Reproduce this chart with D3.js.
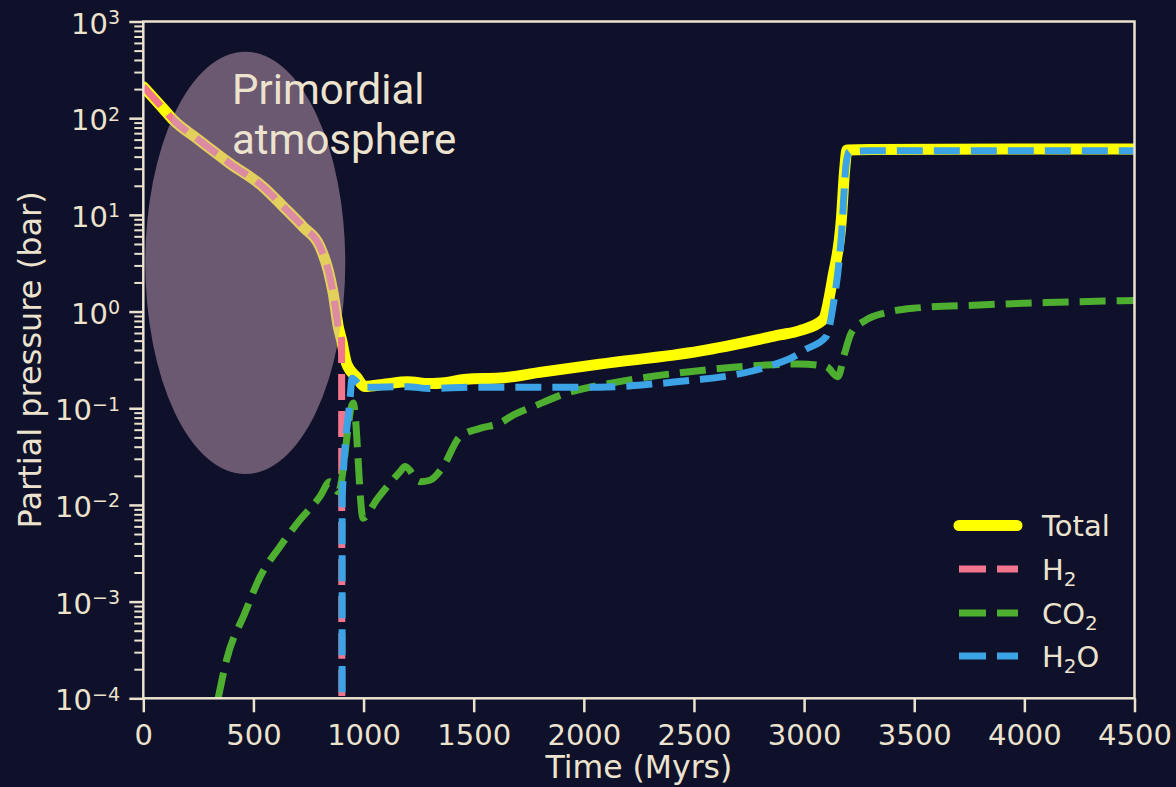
<!DOCTYPE html>
<html>
<head>
<meta charset="utf-8">
<script src="https://cdn.jsdelivr.net/npm/d3@7"></script>
<style>
  html, body { margin: 0; padding: 0; background: #0f102a; }
  svg { display: block; }
</style>
</head>
<body>
<svg id="chart" width="1176" height="787"></svg>
<script>
// ---------------- data ----------------
const xTicks = [0, 500, 1000, 1500, 2000, 2500, 3000, 3500, 4000, 4500];
const yExponents = [-4, -3, -2, -1, 0, 1, 2, 3];

const totalTime  = [0, 90, 136, 242, 393, 544, 635, 726, 802, 839, 862, 885, 900, 923, 968, 1006, 1100, 1200, 1300, 1377, 1467, 1618, 1800, 2072, 2526, 2889, 2980, 3085, 3131, 3169, 3184, 3195, 3300, 4500];
const totalValue = [212, 126, 96, 62, 34, 19.5, 12.2, 7.5, 4.7, 2.7, 1.55, 0.70, 0.51, 0.29, 0.21, 0.168, 0.178, 0.188, 0.18, 0.185, 0.20, 0.205, 0.235, 0.286, 0.39, 0.573, 0.635, 0.82, 2.3, 8.9, 29, 47, 47.5, 48];

const h2Time  = [0, 90, 136, 242, 393, 544, 635, 726, 802, 839, 862, 885, 900, 902];
const h2Value = [212, 126, 96, 62, 34, 19.5, 12.2, 7.5, 4.7, 2.7, 1.55, 0.70, 0.51, 1e-7];

const co2Time  = [340, 378, 461, 530, 620, 711, 802, 847, 885, 953, 998, 1059, 1165, 1188, 1256, 1301, 1361, 1437, 1528, 1618, 1679, 1770, 1921, 2118, 2299, 2481, 2677, 2828, 2980, 3100, 3153, 3184, 3214, 3282, 3373, 3494, 3796, 4099, 4500];
const co2Value = [1.0e-4, 2.5e-4, 7.6e-4, 1.8e-3, 3.7e-3, 7e-3, 0.0122, 0.0174, 0.0137, 0.113, 0.0073, 0.0113, 0.022, 0.025, 0.0174, 0.018, 0.0249, 0.0508, 0.062, 0.07, 0.085, 0.104, 0.143, 0.181, 0.212, 0.239, 0.265, 0.28, 0.287, 0.27, 0.212, 0.37, 0.60, 0.82, 0.975, 1.08, 1.17, 1.24, 1.30];

const h2oTime  = [902, 903, 938, 948, 983, 1006, 1200, 1300, 1500, 1709, 2072, 2313, 2503, 2677, 2837, 2967, 3002, 3100, 3131, 3169, 3191, 3205, 3300, 4500];
const h2oValue = [1e-7, 0.012, 0.12, 0.204, 0.174, 0.165, 0.167, 0.16, 0.165, 0.165, 0.165, 0.178, 0.196, 0.22, 0.27, 0.355, 0.40, 0.55, 1.12, 5.96, 34, 45, 46, 46];

const legendLabels = ["Total", "H2", "CO2", "H2O"];

// ---------------- styling / layout ----------------
const BG = "#0f102a", CREAM = "#ece3cf";
const COLORS = { Total: "#ffff00", H2: "#f2758e", CO2: "#4dae30", H2O: "#3ba3e6" };
const FONT = "'DejaVu Sans', sans-serif";

const svg = d3.select("#chart");
svg.append("rect").attr("width", 1176).attr("height", 787).attr("fill", BG);

const pLeft = 143.3, pRight = 1134.5, pTop = 21.5, pBottom = 698.3;
const x = d3.scaleLinear().domain([0, 4500]).range([pLeft, pRight]);
const y = d3.scaleLog().domain([1e-4, 1e3]).range([pBottom, pTop]);

svg.append("clipPath").attr("id", "plotclip")
  .append("rect").attr("x", pLeft).attr("y", pTop).attr("width", pRight - pLeft).attr("height", pBottom - pTop);

const plot = svg.append("g").attr("clip-path", "url(#plotclip)");

const line = d3.line().x(d => x(d[0])).y(d => y(d[1])).curve(d3.curveMonotoneX);
const zip = (a, b) => a.map((v, i) => [v, b[i]]);

plot.append("path").datum(zip(totalTime, totalValue)).attr("d", line)
  .attr("fill", "none").attr("stroke", COLORS.Total).attr("stroke-width", 11)
  .attr("stroke-linejoin", "round").attr("stroke-linecap", "round");

const dashed = [["H2", h2Time, h2Value], ["CO2", co2Time, co2Value], ["H2O", h2oTime, h2oValue]];
dashed.forEach(([k, t, v]) => {
  plot.append("path").datum(zip(t, v)).attr("d", line)
    .attr("fill", "none").attr("stroke", COLORS[k]).attr("stroke-width", 7)
    .attr("stroke-dasharray", "26,11").attr("stroke-linejoin", "round");
});

// Primordial atmosphere ellipse (annotation, over the lines)
const ellCenterT = 463, ellHalfT = 454, ellTopLog = 2.688, ellBotLog = -1.68;
const ecx = x(ellCenterT), erx = x(ellCenterT + ellHalfT) - x(ellCenterT);
const eyTop = y(Math.pow(10, ellTopLog)), eyBot = y(Math.pow(10, ellBotLog));
plot.append("ellipse")
  .attr("cx", ecx).attr("cy", (eyTop + eyBot) / 2)
  .attr("rx", erx).attr("ry", (eyBot - eyTop) / 2)
  .attr("fill", "rgb(199,160,183)").attr("fill-opacity", 0.5);

svg.append("text").attr("x", 232).attr("y", 104)
  .attr("font-family", "Roboto, sans-serif").attr("font-size", 42).attr("fill", CREAM)
  .text("Primordial");
svg.append("text").attr("x", 232).attr("y", 154)
  .attr("font-family", "Roboto, sans-serif").attr("font-size", 42).attr("fill", CREAM)
  .text("atmosphere");

// ---------------- axes ----------------
const xAxis = d3.axisBottom(x).tickValues(xTicks).tickSize(14).tickPadding(10).tickFormat(d3.format("d"));
const gx = svg.append("g").attr("transform", `translate(0,${pBottom})`).call(xAxis);
gx.select(".domain").remove();
gx.selectAll(".tick line").attr("stroke", CREAM).attr("stroke-width", 2.5);
gx.selectAll(".tick text").attr("fill", CREAM).attr("font-family", FONT).attr("font-size", 29)
  .attr("y", 0).attr("dy", null).attr("transform", "translate(0,47)");

// y major ticks
const majorVals = yExponents.map(e => Math.pow(10, e));
const yAxisMajor = d3.axisLeft(y).tickValues(majorVals).tickSize(14).tickFormat("");
const gy = svg.append("g").attr("transform", `translate(${pLeft},0)`).call(yAxisMajor);
gy.select(".domain").remove();
gy.selectAll(".tick line").attr("stroke", CREAM).attr("stroke-width", 2.5);

// y minor ticks
const minorVals = [];
yExponents.slice(0, -1).forEach(e => { for (let m = 2; m <= 9; m++) minorVals.push(m * Math.pow(10, e)); });
const yAxisMinor = d3.axisLeft(y).tickValues(minorVals).tickSize(9).tickFormat("");
const gym = svg.append("g").attr("transform", `translate(${pLeft},0)`).call(yAxisMinor);
gym.select(".domain").remove();
gym.selectAll(".tick line").attr("stroke", CREAM).attr("stroke-width", 2);

// y tick labels 10^e
yExponents.forEach(e => {
  const t = svg.append("text").attr("x", 120).attr("y", y(Math.pow(10, e)) + 12)
    .attr("text-anchor", "end").attr("font-family", FONT).attr("fill", CREAM).attr("font-size", 29);
  t.append("tspan").text("10");
  t.append("tspan").attr("font-size", 19).attr("dy", -9.5).text(e < 0 ? "\u2212" + (-e) : String(e));
});

// spines
svg.append("rect").attr("x", pLeft).attr("y", pTop).attr("width", pRight - pLeft).attr("height", pBottom - pTop)
  .attr("fill", "none").attr("stroke", CREAM).attr("stroke-width", 2.5);

// axis labels
svg.append("text").attr("x", (pLeft + pRight) / 2).attr("y", 778).attr("text-anchor", "middle")
  .attr("font-family", FONT).attr("font-size", 31.5).attr("fill", CREAM).text("Time (Myrs)");
svg.append("text").attr("transform", `translate(41,${(pTop + pBottom) / 2}) rotate(-90)`)
  .attr("text-anchor", "middle").attr("font-family", FONT).attr("font-size", 32).attr("fill", CREAM)
  .text("Partial pressure (bar)");

// ---------------- legend ----------------
const legY = [525.5, 569, 613, 656];
legendLabels.forEach((lab, i) => {
  const ly = legY[i];
  if (lab === "Total") {
    svg.append("line").attr("x1", 959).attr("x2", 1017).attr("y1", ly).attr("y2", ly)
      .attr("stroke", COLORS.Total).attr("stroke-width", 11).attr("stroke-linecap", "round");
  } else {
    svg.append("line").attr("x1", 959).attr("x2", 1018).attr("y1", ly).attr("y2", ly)
      .attr("stroke", COLORS[lab]).attr("stroke-width", 7).attr("stroke-dasharray", "27,11");
  }
  const t = svg.append("text").attr("x", 1042).attr("y", ly + 10.5)
    .attr("font-family", FONT).attr("font-size", 29).attr("fill", CREAM);
  const m = lab.match(/^([A-Z]+)(2)?(.*)$/);
  if (lab === "Total") { t.text(lab); }
  else {
    t.append("tspan").text(m[1]);
    t.append("tspan").attr("font-size", 20).attr("dy", 6).text("2");
    if (m[3]) t.append("tspan").attr("dy", -6).text(m[3]);
  }
});
</script>
</body>
</html>
